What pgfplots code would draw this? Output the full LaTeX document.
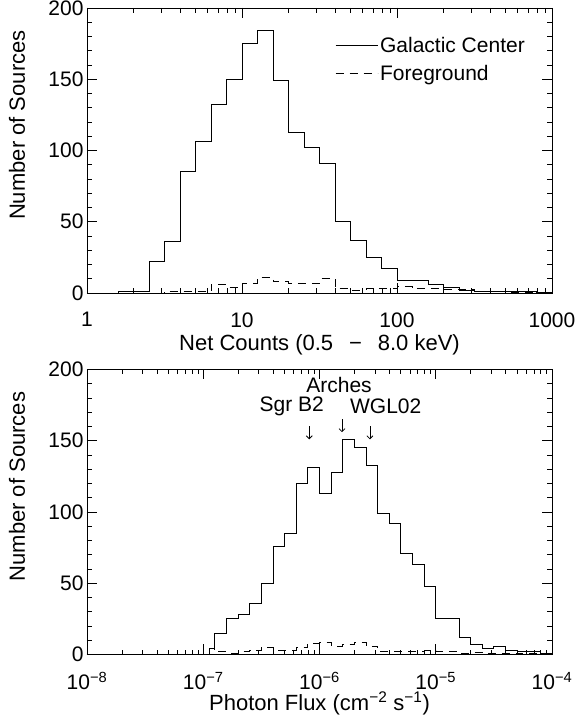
\documentclass[border=0pt]{standalone}
\usepackage{fontspec}
\setmainfont{Liberation Sans}
\usepackage{pgfplots}
\pgfplotsset{compat=1.18}
\usetikzlibrary{arrows.meta}

\newcommand{\idlfont}{\fontsize{21bp}{25bp}\selectfont}
\newcommand{\lblfont}{\fontsize{22bp}{26bp}\selectfont}

\begin{document}
\begin{tikzpicture}
\useasboundingbox (-87bp,-62.5bp) rectangle (492bp,654.5bp);

% ---------------- top panel ----------------
\begin{axis}[at={(0,361.5bp)}, anchor=south west,
    scale only axis, width=465bp, height=285bp,
    xmode=log, ymin=0, ymax=200,
    ytick={0,50,100,150,200}, minor y tick num=4,
    tick align=inside,
    major tick length=10bp, minor tick length=5bp,
    axis line style={line width=0.9bp},
    every tick/.style={black, line width=0.7bp},
    tick label style={font=\idlfont},
    xticklabel style={yshift=-16bp},
    every axis label/.append style={font=\lblfont},
    /pgf/number format/assume math mode=true,
    ylabel={Number of Sources},
    ylabel style={at={(axis description cs:-0.1505,0.589)},anchor=center},
    xlabel style={at={(axis description cs:0.5,0)},anchor=center,yshift=-52bp},
  xmin=1, xmax=1000, xtick={1,10,100,1000}, xticklabels={1,10,100,1000},
  xlabel={Net Counts (0.5 \ \,−\ \ \,8.0 keV)},
  legend style={at={(axis description cs:0.5333,0.897)}, anchor=north west,
    draw=none, fill=none, inner sep=0pt, font=\idlfont, row sep=11bp,
    nodes={inner xsep=2bp, inner ysep=0bp}},
  legend cell align=left,
  legend image code/.code={\draw[#1] plot coordinates {(0bp,0bp) (42bp,0bp)};},
]
\addplot[const plot mark left, no marks, black, line width=0.9bp] coordinates {
(1.0000,0) (1.5849,1) (2.5119,22) (3.1623,36) (3.9811,85) (5.0119,106)
(6.3096,132) (7.9433,150) (10.000,175) (12.589,184) (15.849,149)
(19.953,113) (25.119,102) (31.623,91) (39.811,50) (50.119,37)
(63.096,25) (79.433,17) (100.00,9) (125.89,9) (158.49,6) (199.53,4)
(251.19,2) (316.23,1) (794.33,0.5) (1000,0.5)};
\addlegendentry{Galactic Center}
\addplot[const plot mark left, no marks, black, line width=0.9bp, dash pattern=on 8bp off 6bp] coordinates {
(1.0000,0) (3.1623,1) (6.3096,6) (7.9433,4) (10.000,7) (12.589,11)
(15.849,8) (19.953,7) (25.119,7) (31.623,10) (39.811,3) (50.119,2)
(63.096,3) (79.433,3) (100.00,4.4) (125.89,3) (158.49,3) (199.53,2.5)
(251.19,2.5) (316.23,1) (501.19,0.5) (1000,0.5)};
\addlegendentry{Foreground}
\end{axis}

% ---------------- bottom panel ----------------
\begin{axis}[at={(0,0)}, anchor=south west,
    scale only axis, width=465bp, height=285bp,
    xmode=log, ymin=0, ymax=200,
    ytick={0,50,100,150,200}, minor y tick num=4,
    tick align=inside,
    major tick length=10bp, minor tick length=5bp,
    axis line style={line width=0.9bp},
    every tick/.style={black, line width=0.7bp},
    tick label style={font=\idlfont},
    xticklabel style={yshift=-14bp},
    every axis label/.append style={font=\lblfont},
    /pgf/number format/assume math mode=true,
    ylabel={Number of Sources},
    ylabel style={at={(axis description cs:-0.1505,0.589)},anchor=center},
    xlabel style={at={(axis description cs:0.5,0)},anchor=center,yshift=-49bp},
  xmin=1e-8, xmax=1e-4, xtick={1e-8,1e-7,1e-6,1e-5,1e-4},
  xticklabels={10\textsuperscript{−8},10\textsuperscript{−7},10\textsuperscript{−6},10\textsuperscript{−5},10\textsuperscript{−4}},
  xlabel={Photon Flux (cm\textsuperscript{−2} s\textsuperscript{−1})},
]
\addplot[const plot mark left, no marks, black, line width=0.9bp] coordinates {
(1e-8,0) (1.1220e-7,4) (1.2589e-7,15) (1.5849e-7,25) (1.9953e-7,28)
(2.5119e-7,36) (3.1623e-7,50) (3.9811e-7,76) (5.0119e-7,85)
(6.3096e-7,120) (7.9433e-7,131) (1e-6,113) (1.2589e-6,128)
(1.5849e-6,151) (1.9953e-6,145) (2.5119e-6,133) (3.1623e-6,99)
(3.9811e-6,92) (5.0119e-6,71) (6.3096e-6,63) (7.9433e-6,48)
(1e-5,25) (1.2589e-5,25) (1.5849e-5,12) (1.9953e-5,7) (2.5119e-5,4)
(3.1623e-5,5.5) (3.9811e-5,3) (5.0119e-5,2) (6.3096e-5,2)
(7.9433e-5,1) (1e-4,1)};
\addplot[const plot mark left, no marks, black, line width=0.9bp, dash pattern=on 8bp off 6bp] coordinates {
(1e-8,0) (1.1220e-7,4) (1.2589e-7,2) (1.5849e-7,1) (1.9953e-7,2)
(2.5119e-7,3) (3.1623e-7,5) (3.9811e-7,3) (5.0119e-7,3)
(6.3096e-7,5) (7.9433e-7,8) (1e-6,8.5) (1.2589e-6,6)
(1.5849e-6,7) (1.9953e-6,8.5) (2.5119e-6,6) (3.1623e-6,2)
(3.9811e-6,2) (5.0119e-6,2) (6.3096e-6,2) (7.9433e-6,2.5)
(1e-5,2) (1.2589e-5,2) (1.5849e-5,1) (1.9953e-5,1.5) (2.5119e-5,1)
(3.1623e-5,1) (3.9811e-5,1) (5.0119e-5,0.5) (1e-4,0.5)};
% annotations
\node[font=\idlfont] at (axis cs:5.77e-7,174) {Sgr B2};
\node[font=\idlfont] at (axis cs:1.472e-6,189) {Arches};
\node[font=\idlfont] at (axis cs:3.715e-6,174) {WGL02};
\draw[line width=0.8bp,-{Straight Barb[length=3bp,width=6bp]}] (axis cs:8.17e-7,160) -- (axis cs:8.17e-7,151);
\draw[line width=0.8bp,-{Straight Barb[length=3bp,width=6bp]}] (axis cs:1.563e-6,165) -- (axis cs:1.563e-6,156);
\draw[line width=0.8bp,-{Straight Barb[length=3bp,width=6bp]}] (axis cs:2.716e-6,160) -- (axis cs:2.716e-6,151);
\end{axis}
\end{tikzpicture}
\end{document}
